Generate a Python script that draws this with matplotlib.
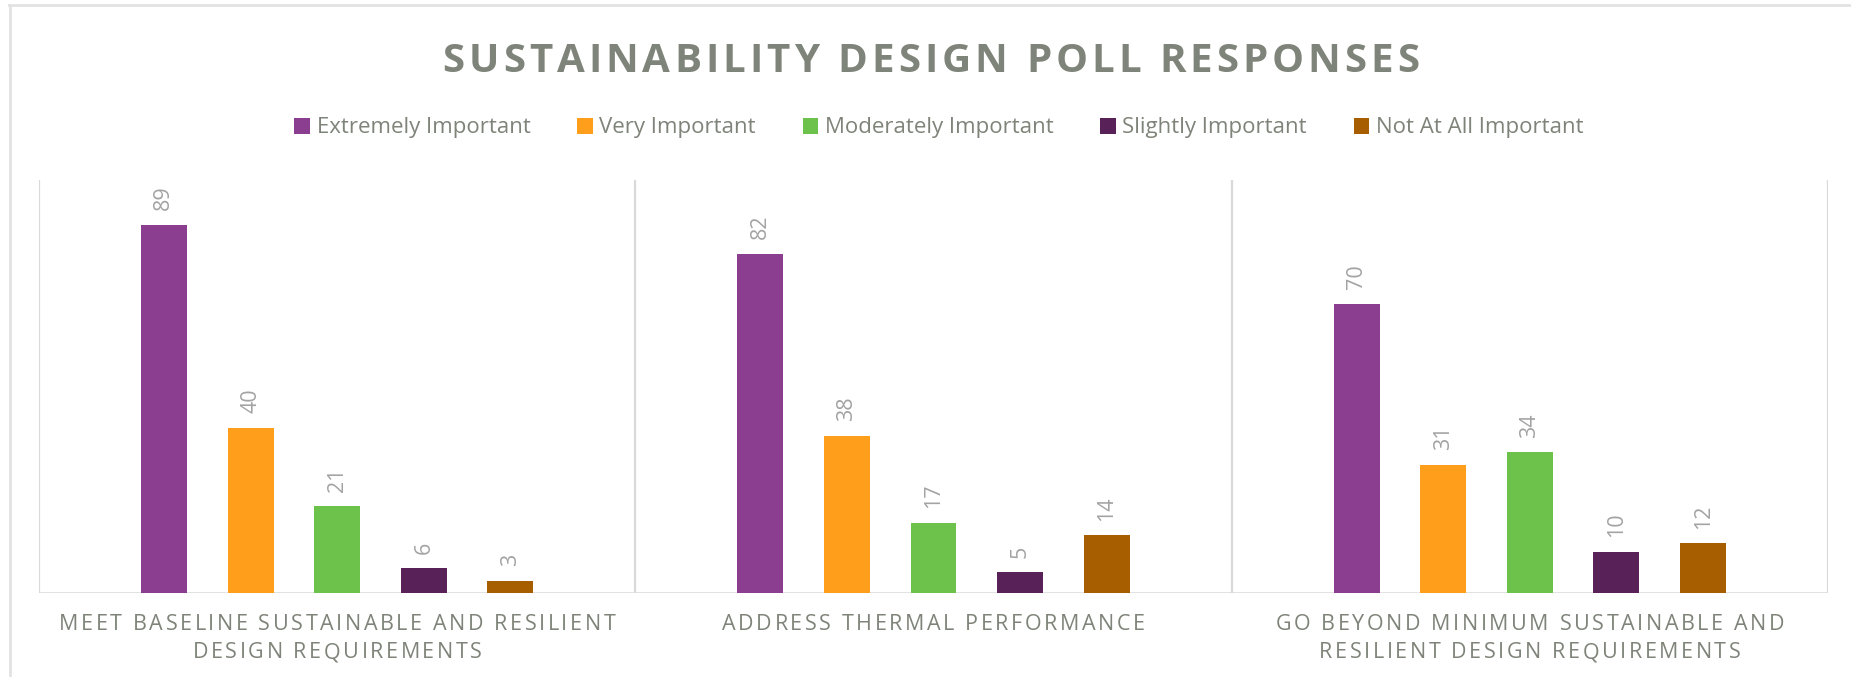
import matplotlib
matplotlib.use("Agg")
import matplotlib.pyplot as plt
import numpy as np
from matplotlib.font_manager import FontProperties, findfont, get_font
from matplotlib.lines import Line2D
from matplotlib.patches import Patch

try:
    from matplotlib.ft2font import LoadFlags
    NO_HINT = LoadFlags.NO_HINTING
except ImportError:  # older matplotlib
    from matplotlib.ft2font import LOAD_NO_HINTING as NO_HINT

# ---- data -------------------------------------------------------------
title = "SUSTAINABILITY DESIGN POLL RESPONSES"
category_lines = [
    ["MEET BASELINE SUSTAINABLE AND RESILIENT", "DESIGN REQUIREMENTS"],
    ["ADDRESS THERMAL PERFORMANCE"],
    ["GO BEYOND MINIMUM SUSTAINABLE AND", "RESILIENT DESIGN REQUIREMENTS"],
]
series_names = ["Extremely Important", "Very Important", "Moderately Important",
                "Slightly Important", "Not At All Important"]
extremely_important = [89, 82, 70]
very_important = [40, 38, 31]
moderately_important = [21, 17, 34]
slightly_important = [6, 5, 10]
not_at_all_important = [3, 14, 12]
series_colors = ["#8B3E8F", "#FF9E1B", "#6CC24A", "#582157", "#A65E00"]

series_values = [extremely_important, very_important, moderately_important,
                 slightly_important, not_at_all_important]

# ---- styling ------------------------------------------------------------
W, H, DPI = 1851, 677, 100
TEXT_GRAY = "#7E8479"
LABEL_GRAY = "#A3A3A3"
GRID_GRAY = "#D9D9D9"
BORDER_GRAY = "#E2E2E2"
FONT = ["Open Sans", "DejaVu Sans"]

fig = plt.figure(figsize=(W / DPI, H / DPI), dpi=DPI)
fig.patch.set_facecolor("white")

# plot area in pixels: left, right, top (value 100), baseline (value 0)
px_left, px_right, px_top, px_base = 39, 1828, 179.5, 593
ax = fig.add_axes([px_left / W, 1 - px_base / H,
                   (px_right - px_left) / W, (px_base - px_top) / H])
ax.set_xlim(-0.5, 2.5)
ax.set_ylim(0, 100)
for s in ax.spines.values():
    s.set_visible(False)
ax.set_xticks([])
ax.set_yticks([])
ax.patch.set_alpha(0)

# category separators and baseline
ax.vlines([-0.5, 0.5, 1.5, 2.5], 0, 100, color=GRID_GRAY, lw=1.6, zorder=1)
ax.axhline(0, color=GRID_GRAY, lw=1.8, zorder=1)

x = np.arange(len(category_lines))
step, width = 0.1453, 0.0771
for i, (vals, col) in enumerate(zip(series_values, series_colors)):
    bars = ax.bar(x + (i - 2) * step, vals, width, color=col, zorder=2)
    ax.bar_label(bars, labels=[str(v) for v in vals], padding=10.5,
                 rotation=90, color=LABEL_GRAY, fontsize=15.5, family=FONT)


# ---- letter-spaced text helper -----------------------------------------
def char_advance(ch, prop):
    font = get_font(findfont(prop))
    font.set_size(prop.get_size_in_points(), DPI)
    glyph = font.load_char(ord(ch), flags=NO_HINT)
    return glyph.linearHoriAdvance / 65536.0


def tracked_text(cx, baseline, text, prop, tracking=None, target_width=None,
                 color=TEXT_GRAY):
    adv = [char_advance(c, prop) for c in text]
    if target_width is not None:
        tracking = (target_width - sum(adv)) / (len(text) - 1)
    total = sum(adv) + tracking * (len(text) - 1)
    xpos = cx - total / 2
    for c, a in zip(text, adv):
        if c != " ":
            fig.text(xpos / W, 1 - baseline / H, c, fontproperties=prop,
                     color=color, ha="left", va="baseline")
        xpos += a + tracking


# title
title_prop = FontProperties(family="Open Sans", weight="bold", size=29)
tracked_text(931, 72, title, title_prop, target_width=977)

# category labels under each group
cat_prop = FontProperties(family="Open Sans", size=15.5)
for i, lines in enumerate(category_lines):
    cx = ax.transData.transform((x[i], 0))[0]
    for j, line in enumerate(lines):
        tracked_text(cx, 630 + 28 * j, line, cat_prop, tracking=2.6)

# legend
handles = [Patch(facecolor=c, edgecolor="none") for c in series_colors]
fig.legend(handles, series_names, loc="center", ncol=5,
           bbox_to_anchor=(939 / W, 1 - 128 / H), frameon=False,
           prop=FontProperties(family="Open Sans", size=16),
           labelcolor=TEXT_GRAY, handlelength=0.7, handleheight=0.7,
           handletextpad=0.3, columnspacing=2.1)

# outer chart border (top and left edges)
fig.add_artist(Line2D([9 / W, 1], [1 - 5 / H, 1 - 5 / H],
                      transform=fig.transFigure, color=BORDER_GRAY, lw=2))
fig.add_artist(Line2D([10 / W, 10 / W], [0, 1 - 5 / H],
                      transform=fig.transFigure, color=BORDER_GRAY, lw=2))

fig.savefig("out.png", dpi=DPI, facecolor="white")
